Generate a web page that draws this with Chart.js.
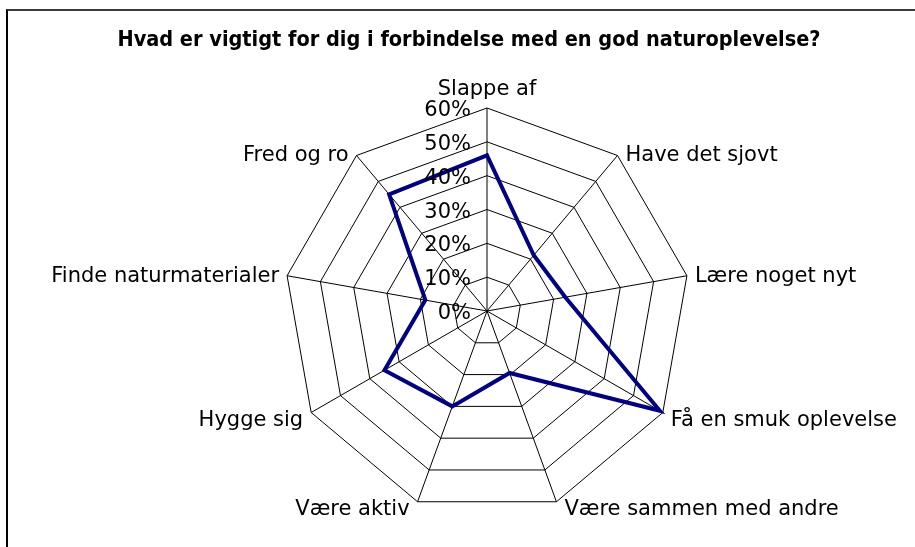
<!DOCTYPE html>
<html>
<head>
<meta charset="utf-8">
<script src="https://cdn.jsdelivr.net/npm/chart.js@4.4.0/dist/chart.umd.min.js"></script>
<style>
  body { margin: 0; background: #fff; }
  #frame {
    position: absolute; left: 6px; top: 9px; width: 1000px; height: 1000px;
    border-top: 2px solid #3a3a3a; border-left: 2px solid #000;
  }
  #chart { position: absolute; left: 0; top: 0; }
</style>
</head>
<body>
<div id="frame"></div>
<canvas id="chart" width="915" height="547"></canvas>
<script>
const title = "Hvad er vigtigt for dig i forbindelse med en god naturoplevelse?";
const categories = [
  "Slappe af",
  "Have det sjovt",
  "Lære noget nyt",
  "Få en smuk oplevelse",
  "Være sammen med andre",
  "Være aktiv",
  "Hygge sig",
  "Finde naturmaterialer",
  "Fred og ro"
];
// percent of answers
const shares = [46, 21.5, 23.5, 59, 19.5, 30, 35, 18.5, 45];
const tickLabels = ["0%", "10%", "20%", "30%", "40%", "50%", "60%"];

// title, tick labels and category labels placed like the original
const textPlugin = {
  id: "textPlugin",
  afterDraw(chart) {
    const ctx = chart.ctx;
    const r = chart.scales.r;
    ctx.save();
    ctx.fillStyle = "#000";
    ctx.textBaseline = "alphabetic";

    ctx.font = "bold 21.5px 'DejaVu Sans Condensed'";
    ctx.textAlign = "center";
    ctx.fillText(title, 469, 46);

    ctx.font = "21px 'DejaVu Sans'";
    ctx.textAlign = "right";
    r.ticks.forEach((t, i) => {
      const d = r.getDistanceFromCenterForValue(t.value);
      ctx.fillText(tickLabels[i], r.xCenter - 16, r.yCenter - d + 8);
    });

    categories.forEach((name, i) => {
      const p = r.getPointPosition(i, r.drawingArea);
      const a = p.angle + Math.PI / 2;
      const s = Math.sin(a), c = Math.cos(a);
      if (Math.abs(s) < 0.01) {
        ctx.textAlign = "center";
        ctx.fillText(name, p.x, p.y - 13);
      } else {
        ctx.textAlign = s > 0 ? "left" : "right";
        const x = s > 0 ? p.x + 8 : p.x - 8;
        ctx.fillText(name, x, p.y + (c > 0 ? 6 : 13));
      }
    });
    ctx.restore();
  }
};

new Chart(document.getElementById("chart"), {
  type: "radar",
  data: {
    labels: categories,
    datasets: [{
      data: shares,
      borderColor: "#000080",
      backgroundColor: "transparent",
      borderWidth: 4,
      fill: false,
      pointRadius: 0,
      tension: 0
    }]
  },
  options: {
    responsive: false,
    animation: false,
    layout: { padding: { left: 284, right: 225, top: 108, bottom: 33 } },
    plugins: {
      legend: { display: false },
      tooltip: { enabled: false }
    },
    scales: {
      r: {
        min: 0,
        max: 60,
        ticks: { display: false, stepSize: 10 },
        grid: { color: "#000", lineWidth: 1, circular: false },
        angleLines: { color: "#000", lineWidth: 1 },
        pointLabels: { display: false }
      }
    }
  },
  plugins: [textPlugin]
});
</script>
</body>
</html>
